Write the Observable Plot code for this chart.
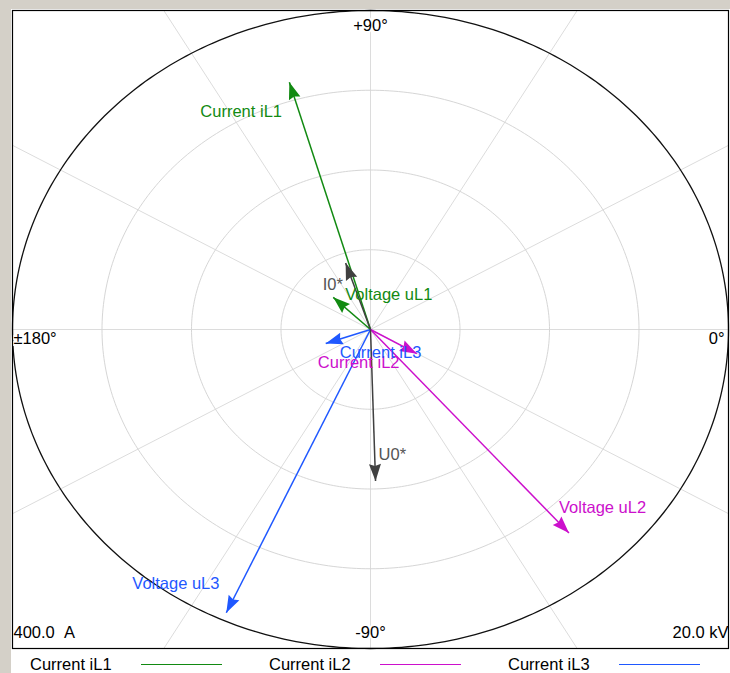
<!DOCTYPE html>
<html><head><meta charset="utf-8">
<script src="https://cdn.jsdelivr.net/npm/d3@7"></script>
<script src="https://cdn.jsdelivr.net/npm/@observablehq/plot@0.6"></script>
<style>
body{margin:0;background:#fff;width:730px;height:673px;position:relative;overflow:hidden;font-family:"Liberation Sans",Arial,sans-serif;}
#bgLeft{position:absolute;left:0;top:0;width:11px;height:673px;background:#d4d0c8;}
#bgTop{position:absolute;left:0;top:0;width:730px;height:9px;background:#d4d0c8;}
#chart{position:absolute;left:0;top:0;}
#legend{position:absolute;left:30px;top:655px;display:flex;font-size:16.5px;line-height:18px;color:#000;}
.item{width:239px;display:flex;align-items:center;}
.item span{width:111px;white-space:nowrap;}
.item i{display:block;width:81px;height:0;border-top:1.5px solid;}
</style></head><body>
<div id="bgLeft"></div><div id="bgTop"></div>
<div id="chart"></div>
<div id="legend"></div>
<script>
// ---- data ----
const names = ["Current iL1", "Current iL2", "Current iL3", "Voltage uL1", "Voltage uL2", "Voltage uL3", "I0*", "U0*"];
const magnitudes = [323, 60, 53, 2.9, 16.9, 19.5, 88, 9.5];          // A or kV
const angles = [106.3, -30.3, -160.7, 135.9, -49.0, -114.4, 108.4, -88.3]; // degrees
const units = ["A", "A", "A", "kV", "kV", "kV", "A", "kV"];
const phases = ["L1", "L2", "L3", "L1", "L2", "L3", "0", "0"];
const fullScaleUnits = ["A", "kV"];
const fullScaleValues = [400, 20];
const scaleLabels = ["400.0\u00a0\u00a0A", "20.0 kV"];
const angleLabels = ["+90°", "±180°", "0°", "-90°"];
const legendNames = ["Current iL1", "Current iL2", "Current iL3"];
const ringCount = 4;
const spokeStep = 30;

// ---- styles ----
const phaseColor = {L1: "#128a12", L2: "#cc10cc", L3: "#1f58ff", "0": "#404040"};
const labelColor = {L1: "#128a12", L2: "#cc10cc", L3: "#1f58ff", "0": "#555555"};
const labelOffset = { // pixel offsets from arrow tip to label start (x) / middle (y)
  "Current iL1": [-89, 29], "Current iL2": [-99, 9], "Current iL3": [14, 9],
  "Voltage uL1": [12, -3], "Voltage uL2": [-10, -25], "Voltage uL3": [-94, -29],
  "I0*": [-23, 22], "U0*": [3, -26]
};
const FONT = 16.5;

const W = 730, H = 650, mL = 12, mR = 2, mT = 10, mB = 2;
const rx = (W - mL - mR) / 2, ry = (H - mT - mB) / 2;
const rad = Math.PI / 180;
const full = Object.fromEntries(fullScaleUnits.map((u, i) => [u, fullScaleValues[i]]));

const vec = names.map((n, i) => {
  const r = magnitudes[i] / full[units[i]];
  const x = r * Math.cos(angles[i] * rad), y = r * Math.sin(angles[i] * rad);
  const [dx, dy] = labelOffset[n];
  return {name: n, x, y, color: phaseColor[phases[i]], tcolor: labelColor[phases[i]],
          lx: x + dx / rx, ly: y - dy / ry,
          rot: Math.atan2(x * rx, y * ry) / rad};
});

const rings = [];
for (let k = 1; k <= ringCount; k++)
  for (let t = 0; t <= 360; t += 1)
    rings.push({ring: k, x: k / ringCount * Math.cos(t * rad), y: k / ringCount * Math.sin(t * rad)});
const spokes = d3.range(0, 360, spokeStep).map(a => ({x: 2 * Math.cos(a * rad), y: 2 * Math.sin(a * rad)}));

const arrowHead = {
  draw(ctx) { const L = 17, w = 6; ctx.moveTo(0, 0); ctx.lineTo(w, L); ctx.lineTo(0, L - 2); ctx.lineTo(-w, L); ctx.closePath(); }
};

const halo = {fill: "black", stroke: "white", strokeWidth: 4, fontSize: FONT};
const chart = Plot.plot({
  width: W, height: H, marginLeft: mL, marginRight: mR, marginTop: mT, marginBottom: mB,
  style: {background: "transparent", fontFamily: "'Liberation Sans', Arial, sans-serif"},
  x: {domain: [-1, 1], axis: null},
  y: {domain: [-1, 1], axis: null},
  color: {type: "identity"},
  marks: [
    Plot.frame({fill: "white", stroke: "none"}),
    Plot.link(spokes, {x1: 0, y1: 0, x2: "x", y2: "y", stroke: "#dcdcdc", strokeWidth: 1, clip: true}),
    Plot.line(rings.filter(d => d.ring < ringCount), {x: "x", y: "y", z: "ring", stroke: "#d6d6d6", strokeWidth: 1}),
    Plot.line(rings.filter(d => d.ring === ringCount), {x: "x", y: "y", stroke: "#111", strokeWidth: 1.3}),
    Plot.text([angleLabels[0]], {frameAnchor: "top", dy: 9, ...halo}),
    Plot.text([angleLabels[3]], {frameAnchor: "bottom", dy: -11, ...halo}),
    Plot.text([angleLabels[1]], {frameAnchor: "left", textAnchor: "start", dx: 1, dy: 9, ...halo}),
    Plot.text([angleLabels[2]], {frameAnchor: "right", textAnchor: "end", dx: -4, dy: 9, ...halo}),
    Plot.text([scaleLabels[0]], {frameAnchor: "bottom-left", textAnchor: "start", dx: 1, dy: -11, ...halo}),
    Plot.text([scaleLabels[1]], {frameAnchor: "bottom-right", textAnchor: "end", dx: 0, dy: -11, ...halo}),
    Plot.link(vec, {x1: 0, y1: 0, x2: "x", y2: "y", stroke: "color", strokeWidth: 1.5}),
    Plot.dot(vec, {x: "x", y: "y", symbol: arrowHead, fill: "color", stroke: "none", rotate: "rot"}),
    Plot.text(vec, {x: "lx", y: "ly", text: "name", fill: "tcolor", textAnchor: "start", fontSize: FONT}),
    Plot.frame({stroke: "black", strokeWidth: 1.2})
  ]
});
document.getElementById("chart").appendChild(chart);

const legend = document.getElementById("legend");
legendNames.forEach(n => {
  const i = names.indexOf(n);
  const item = document.createElement("div"); item.className = "item";
  const s = document.createElement("span"); s.textContent = n;
  const l = document.createElement("i"); l.style.borderTopColor = phaseColor[phases[i]];
  item.appendChild(s); item.appendChild(l); legend.appendChild(item);
});
</script></body></html>
